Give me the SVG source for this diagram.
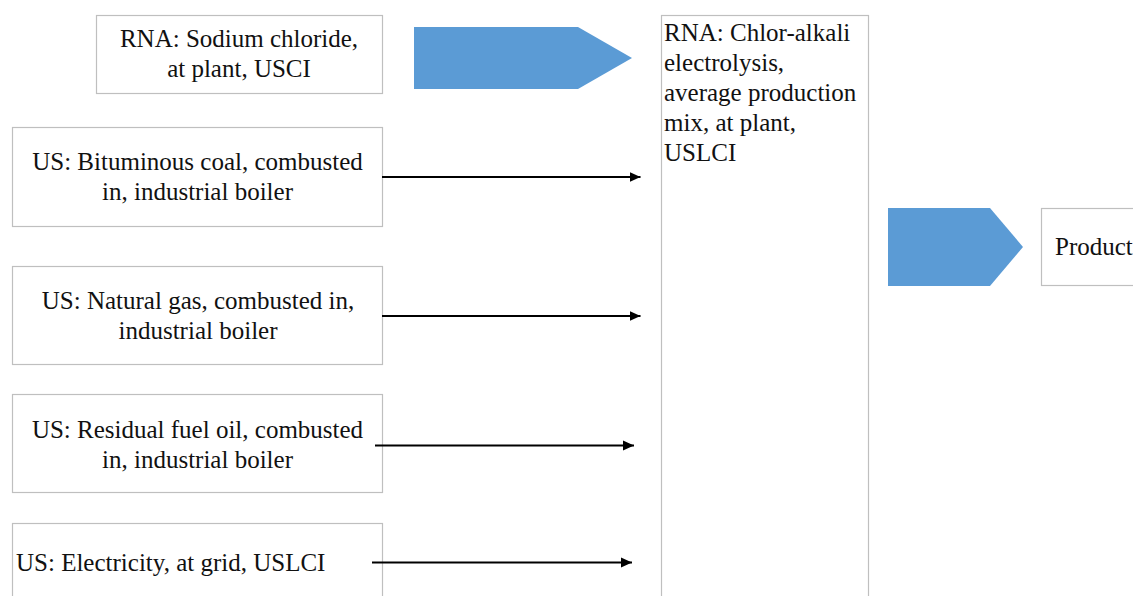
<svg xmlns="http://www.w3.org/2000/svg" width="1133" height="596" viewBox="0 0 1133 596">
<style>
.box{fill:#ffffff;stroke:#bfbfbf;stroke-width:1.2}
.blk{fill:#5b9bd5}
text{font-family:'Liberation Serif','DejaVu Serif','Times New Roman',serif;font-size:25px;fill:#111111}
.c{text-anchor:middle}
.conn{stroke:#000000;stroke-width:1.8;fill:none;marker-end:url(#ah)}
</style>
<defs>
<marker id="ah" markerUnits="userSpaceOnUse" markerWidth="14" markerHeight="14" viewBox="0 0 14 14" refX="11" refY="7" orient="auto">
<path d="M0,2 L11,7 L0,12 Z" fill="#000000"/>
</marker>
</defs>
<rect width="1133" height="596" fill="#ffffff"/>
<g id="sodium-chloride">
<rect class="box" x="96.5" y="15.5" width="286" height="78"/>
<text class="c" font-family="Liberation Serif, serif" x="239" y="47">RNA: Sodium chloride,</text>
<text class="c" font-family="Liberation Serif, serif" x="239" y="77">at plant, USCI</text>
</g>
<g id="flow-arrow-1">
<polygon class="blk" points="414,27 578,27 632,58 578,89 414,89"/>
</g>
<g id="bituminous-coal">
<rect class="box" x="12.5" y="127.5" width="370" height="99"/>
<text class="c" font-family="Liberation Serif, serif" x="197.5" y="170">US: Bituminous coal, combusted</text>
<text class="c" font-family="Liberation Serif, serif" x="197.5" y="200">in, industrial boiler</text>
</g>
<g id="natural-gas">
<rect class="box" x="12.5" y="266.5" width="370" height="98"/>
<text class="c" font-family="Liberation Serif, serif" x="198" y="308.5">US: Natural gas, combusted in,</text>
<text class="c" font-family="Liberation Serif, serif" x="198" y="338.5">industrial boiler</text>
</g>
<g id="residual-fuel-oil">
<rect class="box" x="12.5" y="394.5" width="370" height="98"/>
<text class="c" font-family="Liberation Serif, serif" x="197.5" y="437.5">US: Residual fuel oil, combusted</text>
<text class="c" font-family="Liberation Serif, serif" x="197.5" y="467.5">in, industrial boiler</text>
</g>
<g id="electricity">
<rect class="box" x="12.5" y="523.5" width="370" height="90"/>
<text font-family="Liberation Serif, serif" x="16" y="570.5">US: Electricity, at grid, USLCI</text>
</g>
<g id="chlor-alkali">
<rect class="box" x="661.5" y="15.5" width="207" height="600"/>
<text font-family="Liberation Serif, serif" x="664" y="40.5">RNA: Chlor-alkali</text>
<text font-family="Liberation Serif, serif" x="664" y="70.5">electrolysis,</text>
<text font-family="Liberation Serif, serif" x="664" y="100.5">average production</text>
<text font-family="Liberation Serif, serif" x="664" y="130.5">mix, at plant,</text>
<text font-family="Liberation Serif, serif" x="664" y="160.5">USLCI</text>
</g>
<g id="flow-arrow-2">
<polygon class="blk" points="888,208 990,208 1023,247 990,286 888,286"/>
</g>
<g id="product">
<rect class="box" x="1041.5" y="208.5" width="100" height="77"/>
<text font-family="Liberation Serif, serif" x="1055" y="254.5">Product</text>
</g>
<g id="connectors">
<line class="conn" x1="382" y1="177" x2="640.5" y2="177"/>
<line class="conn" x1="382" y1="316" x2="640.5" y2="316"/>
<line class="conn" x1="375" y1="445.5" x2="634" y2="445.5"/>
<line class="conn" x1="372" y1="562.5" x2="632" y2="562.5"/>
</g>
</svg>
